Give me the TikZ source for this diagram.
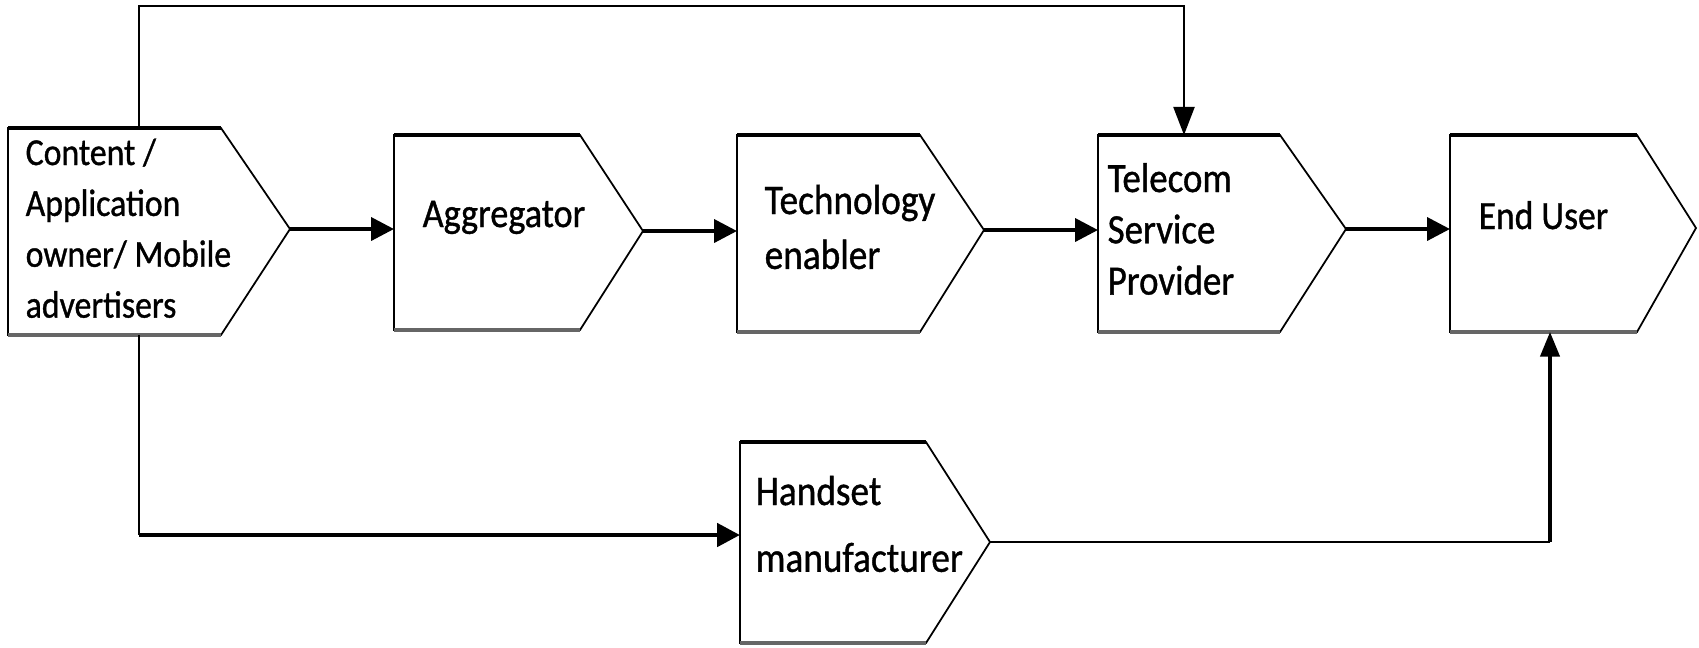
\documentclass[tikz,border=0pt]{standalone}
\usepackage{graphicx}
\usepackage{fontspec}
\newfontfamily\diagfont{Carlito}[FakeBold=1]
\usetikzlibrary{arrows.meta}
\tikzset{
  boxline/.style={draw=black, line width=0.5pt, fill=white, line join=miter},
  edgetop/.style={draw=black, line width=1.1pt},
  edgebot/.style={draw=black!60, line width=1.4pt},
  flow/.style={line width=1.1pt, -{Triangle[length=6.5pt,width=6.5pt]}},
  thinline/.style={line width=0.6pt},
  thinflow/.style={line width=0.6pt, -{Triangle[length=8pt,width=6pt]}},
  lbl/.style={anchor=base west, inner sep=0pt, font=\diagfont}
}
\newcommand\pentbox[7]{%
  \draw[boxline] (#2,#3) -- (#4,#3) -- (#5,#7) -- (#4,#6) -- (#2,#6) -- cycle;
  \draw[edgetop] (#2,#3) -- (#4,#3);
  \draw[edgebot] (#2,#6) -- (#4,#6);
  \coordinate (#1-tip) at (#5,#7);
  \coordinate (#1-w) at (#2,#7);
}
\newcommand\stxt[3]{\scalebox{1}[1.13]{\fontsize{#1}{#2}\selectfont\begin{tabular}[t]{@{}l@{}}#3\end{tabular}}}
\begin{document}
\begin{tikzpicture}[x=0.01cm, y=-0.01cm]
\useasboundingbox (0,0) rectangle (1699,647);
% boxes: name, left, top, flat, tip, bottom, tipy
\pentbox{cont}{8}{128}{221}{290}{335}{229}
\pentbox{agg}{394}{135}{580}{643}{330}{231}
\pentbox{tech}{737}{135}{920}{984}{332}{230}
\pentbox{tel}{1098}{135}{1280}{1346}{332}{229}
\pentbox{eu}{1450}{135}{1637}{1696}{332}{228}
\pentbox{hand}{740}{442}{926}{990}{643}{542}
% labels
\node[lbl] (t-cont) at (25,165) {\stxt{9.6}{12.8}{Content /\\Application\\owner/ Mobile\\advertisers}};
\node[lbl] (t-agg) at (422,227) {\stxt{10.3}{12.6}{Aggregator}};
\node[lbl] (t-tech) at (764,214) {\stxt{10.6}{13.8}{Technology\\enabler}};
\node[lbl] (t-tel) at (1107,192) {\stxt{10.5}{12.9}{Telecom\\Service\\Provider}};
\node[lbl] (t-eu) at (1478,229) {\stxt{10.1}{12.6}{End User}};
\node[lbl] (t-hand) at (755,505) {\stxt{10.6}{16.8}{Handset\\manufacturer}};
% waypoints
\coordinate (cont-top) at (139,128);
\coordinate (bend-a) at (139,6);
\coordinate (bend-b) at (1184,6);
\coordinate (tel-top) at (1184,135);
\coordinate (cont-bot) at (139,335);
\coordinate (bend-c) at (139,535);
\coordinate (hand-in) at (740,535);
\coordinate (bend-d) at (1550,542);
\coordinate (eu-bot) at (1550,332);
% main flow
\draw[flow] (cont-tip) -- (cont-tip -| agg-w);
\draw[flow] (agg-tip) -- (agg-tip -| tech-w);
\draw[flow] (tech-tip) -- (tech-tip -| tel-w);
\draw[flow] (tel-tip) -- (tel-tip -| eu-w);
% top route
\draw[thinflow] (cont-top) -- (bend-a) -- (bend-b) -- (tel-top);
% bottom route
\draw[thinline] (cont-bot) -- (bend-c);
\draw[line width=1.4pt, -{Triangle[length=6.5pt,width=6.5pt]}] (bend-c) -- (hand-in);
\draw[line width=0.7pt] (hand-tip) -- (bend-d);
\draw[line width=0.9pt, -{Triangle[length=7pt,width=5.5pt]}] (bend-d) -- (eu-bot);
\end{tikzpicture}
\end{document}
